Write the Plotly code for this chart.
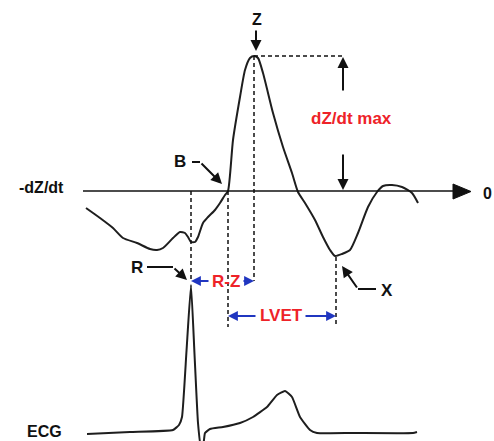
import plotly.graph_objects as go

W, H = 494, 441

# -dZ/dt waveform (diagram units = pixels, y downward)
dzdt_x = [86, 100, 113, 123, 137, 150, 157, 163, 173, 180, 185, 188, 191, 195, 198, 203, 208, 215, 220, 225, 228,
          233, 240, 245, 250, 254, 258, 263, 273, 283, 292, 298, 305, 315, 323, 330, 335, 342, 350, 358, 368, 377,
          383, 392, 402, 412, 418]
dzdt_y = [208, 218, 228, 238, 243, 249, 250, 248, 238, 232, 233, 237, 242, 242, 237, 223, 217, 210, 203, 195, 191,
          140, 97, 70, 58, 56, 58, 73, 113, 147, 173, 192, 203, 220, 237, 250, 256, 254, 250, 233, 207, 192,
          186, 185, 187, 193, 203]

# ECG waveform
ecg_x = [87, 130, 173, 179, 182, 186.5, 191, 194.5, 198, 201, 203, 205, 210, 223, 240, 253, 267, 277, 285, 292, 300,
         310, 317, 353, 413, 417]
ecg_y = [434, 432, 430, 425, 417, 351, 285, 354, 423, 447, 447, 433, 429, 427, 423, 417, 407, 395, 391, 397, 417,
         430, 433, 433, 433, 432]

# Event markers (x positions)
R_x, B_x, Z_x, X_x = 191, 228, 254, 336
baseline_y, peak_y = 191, 56

BLACK = "#111111"
BLUE = "#2036c0"
RED = "#ee2228"
FONT = "Liberation Sans, Arial, sans-serif"

fig = go.Figure()
fig.add_trace(go.Scatter(x=dzdt_x, y=dzdt_y, mode="lines",
                         line=dict(color="#1e1e1e", width=2, shape="spline", smoothing=0.6),
                         hoverinfo="skip", showlegend=False))
fig.add_trace(go.Scatter(x=ecg_x, y=ecg_y, mode="lines",
                         line=dict(color="#1e1e1e", width=2, shape="spline", smoothing=0.4),
                         hoverinfo="skip", showlegend=False))

shapes = []
# baseline with arrow head
shapes.append(dict(type="line", x0=83, x1=456, y0=baseline_y, y1=baseline_y, line=dict(color=BLACK, width=1.6)))
shapes.append(dict(type="path", path="M 453 184 L 471 191.5 L 453 199 Z", fillcolor=BLACK, line=dict(color=BLACK, width=1)))

dash = dict(color=BLACK, width=1.5, dash="4px,3px")
shapes.append(dict(type="line", x0=R_x, x1=R_x, y0=baseline_y, y1=282, line=dash))
shapes.append(dict(type="line", x0=B_x, x1=B_x, y0=baseline_y, y1=327, line=dash))
shapes.append(dict(type="line", x0=Z_x, x1=Z_x, y0=peak_y, y1=281, line=dash))
shapes.append(dict(type="line", x0=X_x, x1=X_x, y0=257, y1=327, line=dash))
shapes.append(dict(type="line", x0=Z_x, x1=343, y0=peak_y, y1=peak_y, line=dash))

# bent leader segments
seg = dict(color=BLACK, width=2)
shapes.append(dict(type="line", x0=192, x1=200, y0=162, y1=162, line=seg))
shapes.append(dict(type="line", x0=147, x1=173, y0=267, y1=267, line=seg))
shapes.append(dict(type="line", x0=358, x1=376, y0=289, y1=289, line=seg))

annotations = []


def arrow(x, y, ax, ay, color, width=2, size=1.1, head=2):
    annotations.append(dict(x=x, y=y, ax=ax, ay=ay, xref="x", yref="y", axref="x", ayref="y",
                            text="", showarrow=True, arrowhead=head, arrowsize=size,
                            arrowwidth=width, arrowcolor=color, standoff=0, startstandoff=0))


# black arrows
arrow(256, 51, 256, 29, BLACK)
arrow(343, 57, 343, 92, BLACK)
arrow(343, 190, 343, 153, BLACK)
arrow(222, 184, 200, 162, BLACK)
arrow(187, 280, 173, 267, BLACK)
arrow(342, 266, 358, 289, BLACK)

# blue arrows
arrow(R_x, 281, 210, 281, BLUE, width=1.8)
arrow(Z_x, 281, 242, 281, BLUE, width=1.8)
arrow(B_x, 316, 257, 316, BLUE, width=1.8)
arrow(X_x, 316, 304, 316, BLUE, width=1.8)


def label(x, y, text, color=BLACK, size=17, bold=True, yanchor="middle"):
    annotations.append(dict(x=x, y=y, xref="x", yref="y", text=f"<b>{text}</b>" if bold else text,
                            showarrow=False, font=dict(family=FONT, size=size, color=color),
                            xanchor="center", yanchor=yanchor, borderpad=0))


label(257, 19, "Z", size=16)
label(180, 161, "B")
label(41, 187, "-dZ/dt", size=16)
label(487, 193, "0", size=16)
label(351, 118, "dZ/dt max", color=RED)
label(137, 267, "R")
label(226, 281, "R-Z", color=RED)
label(281, 315, "LVET", color=RED)
label(387, 290, "X")
label(44, 441, "ECG", size=16, yanchor="bottom")

fig.update_layout(
    width=W, height=H, margin=dict(l=0, r=0, t=0, b=0),
    paper_bgcolor="white", plot_bgcolor="white",
    xaxis=dict(range=[0, W], visible=False, fixedrange=True),
    yaxis=dict(range=[H, 0], visible=False, fixedrange=True),
    shapes=shapes, annotations=annotations, showlegend=False,
)

fig.write_html("out.html")
